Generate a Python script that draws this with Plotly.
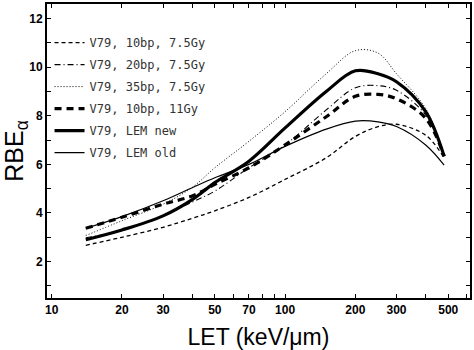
import plotly.graph_objects as go

let = [14, 20, 30, 40, 50, 70, 100, 150, 200, 250, 300, 400, 480]

bp10_75 = [2.67, 3.00, 3.41, 3.78, 4.09, 4.64, 5.38, 6.27, 7.15, 7.55, 7.65, 7.20, 6.27]
bp20_75 = [2.98, 3.28, 3.89, 4.45, 4.90, 5.86, 6.80, 8.24, 9.15, 9.24, 9.05, 8.03, 6.40]
bp35_75 = [3.07, 3.68, 4.36, 5.05, 5.86, 6.95, 8.17, 9.73, 10.68, 10.58, 9.73, 8.30, 6.40]
bp10_11 = [3.37, 3.82, 4.36, 4.70, 5.18, 5.86, 6.80, 7.96, 8.80, 8.88, 8.70, 7.90, 6.33]
lem_new = [2.90, 3.30, 3.88, 4.55, 5.25, 6.13, 7.50, 9.00, 9.85, 9.73, 9.40, 8.17, 6.33]
lem_old = [3.37, 3.85, 4.50, 5.04, 5.45, 6.00, 6.74, 7.45, 7.78, 7.75, 7.56, 6.80, 5.97]

names = ["V79, 10bp, 7.5Gy", "V79, 20bp, 7.5Gy", "V79, 35bp, 7.5Gy",
         "V79, 10bp, 11Gy", "V79, LEM new", "V79, LEM old"]
series = [bp10_75, bp20_75, bp35_75, bp10_11, lem_new, lem_old]
styles = [dict(width=1.3, dash="4px,3px"), dict(width=1.1, dash="6px,3px,1px,3px"),
          dict(width=1, dash="1px,2px"), dict(width=3.2, dash="7px,5px"),
          dict(width=3.2), dict(width=1.2)]

x_ticks = [10, 20, 30, 40, 50, 60, 70, 80, 90, 100, 200, 300, 400, 500, 600]
x_labels = ["10", "20", "30", " ", "50", " ", "70", " ", " ", "100", "200", "300", " ", "500", " "]
y_ticks = [1, 2, 3, 4, 5, 6, 7, 8, 9, 10, 11, 12]
y_labels = [" ", "2", " ", "4", " ", "6", " ", "8", " ", "10", " ", "12"]

fig = go.Figure()
for i, (n, s, st) in enumerate(zip(names, series, styles)):
    fig.add_trace(go.Scatter(x=let, y=s, name=n, mode="lines", legendgroup=f"g{i}",
                             line=dict(color="black", shape="spline", smoothing=1.0, **st)))

axis_common = dict(showline=True, linecolor="black", linewidth=2, mirror="allticks",
                   ticks="inside", ticklen=4, tickwidth=1.2, tickcolor="black",
                   showgrid=False, zeroline=False, tickangle=0,
                   tickfont=dict(family="Liberation Sans Narrow, Liberation Sans, Arial", size=12, color="black", weight="bold"))

fig.update_xaxes(type="log", range=[0.98, 2.792], tickvals=x_ticks, ticktext=x_labels,
                 title=dict(text="LET (keV/μm)", font=dict(family="Liberation Sans, Arial", size=23, color="black"), standoff=14),
                 **axis_common)
fig.update_yaxes(range=[0.5, 12.6], tickvals=y_ticks, ticktext=y_labels,
                 title=dict(text="RBE<sub>α</sub>", font=dict(family="Liberation Sans, Arial", size=25, color="black"), standoff=4),
                 **axis_common)

fig.update_layout(
    width=474, height=350,
    margin=dict(l=47, r=3, t=2, b=51),
    paper_bgcolor="white", plot_bgcolor="white",
    showlegend=True,
    legend=dict(x=0.006, y=0.918, xanchor="left", yanchor="top",
                bgcolor="rgba(0,0,0,0)", itemwidth=30, tracegroupgap=3,
                font=dict(family="DejaVu Sans Mono", size=12, color="#333")),
)

fig.write_html("out.html")
